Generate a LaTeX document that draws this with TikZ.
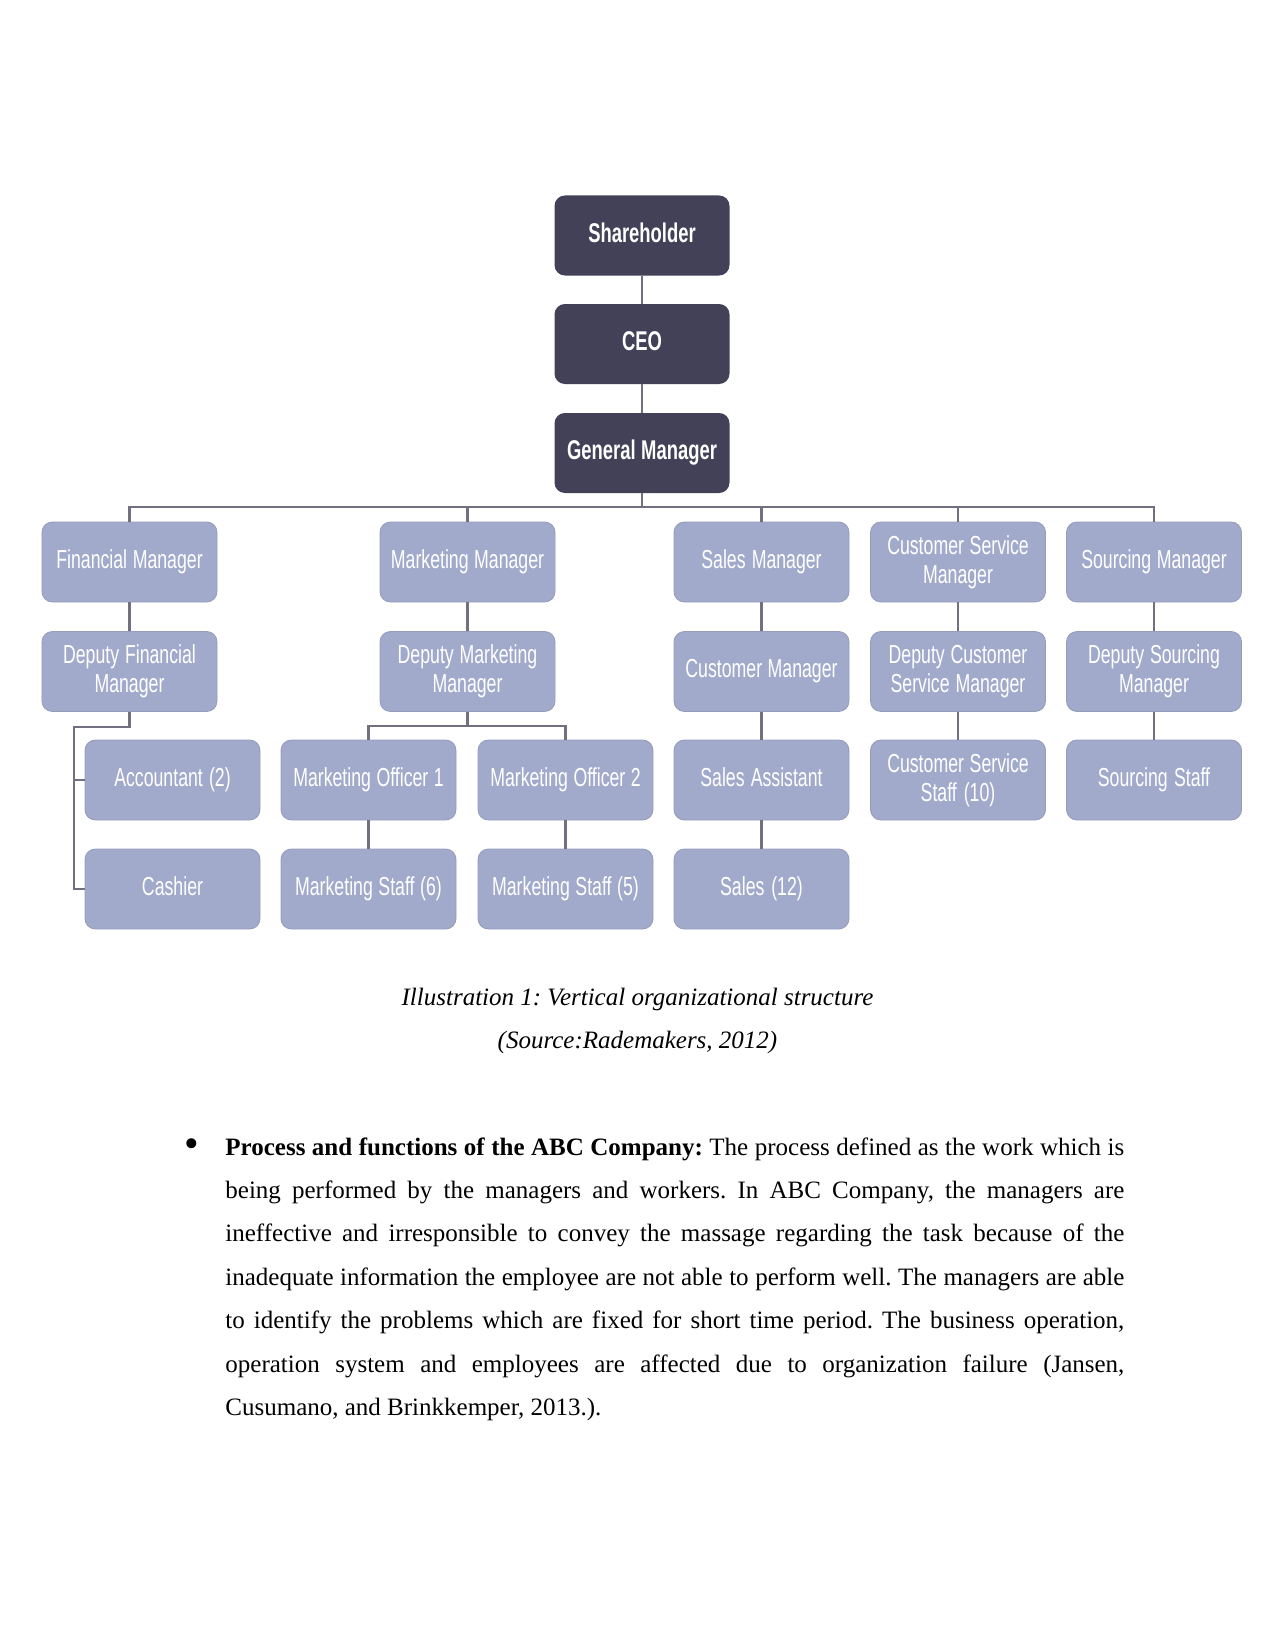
\documentclass[tikz,border=0pt]{standalone}
\usepackage{fontspec}
\setmainfont{Liberation Serif}
\newfontfamily\boxfont[FakeStretch=0.68]{Liberation Sans}
\usetikzlibrary{calc}
\definecolor{darkbox}{RGB}{66,65,88}
\definecolor{lightbox}{RGB}{162,170,204}
\definecolor{connc}{RGB}{112,112,128}
\tikzset{
  orgbox/.style={rectangle, rounded corners=5pt, minimum width=84pt, minimum height=38.4pt,
    inner sep=2pt, text width=80pt, align=center, text=white,
    execute at begin node={\spaceskip=2.5pt plus 1pt minus 0.5pt\vphantom{Mg}}},
  darkb/.style={orgbox, fill=darkbox, font=\boxfont\bfseries\fontsize{13}{15}\selectfont},
  lightb/.style={orgbox, fill=lightbox, draw=lightbox!92!black, line width=0.4pt,
    font=\boxfont\fontsize{12.5}{13.8}\selectfont},
  conn/.style={draw=connc, line width=1pt},
  bodyline/.style={anchor=base west, inner sep=0pt, font=\fontsize{12}{14}\selectfont},
  captext/.style={anchor=base, inner sep=0pt, font=\itshape\fontsize{12}{14}\selectfont}
}
\begin{document}
\frenchspacing
\begin{tikzpicture}[x=0.48pt,y=-0.48pt]
\useasboundingbox (0,0) rectangle (1275,1651);
% top chain
\node[darkb] (sh)  at (642,235.5) {Shareholder};
\node[darkb] (ceo) at (642,344) {CEO};
\node[darkb] (gm)  at (642,453) {General Manager};
% row 1
\node[lightb] (fm)  at (129.5,562) {Financial Manager};
\node[lightb] (mm)  at (467.5,562) {Marketing Manager};
\node[lightb] (sm)  at (761.5,562) {Sales Manager};
\node[lightb] (csm) at (958,562) {Customer Service\\Manager};
\node[lightb] (som) at (1154,562) {Sourcing Manager};
% row 2
\node[lightb] (dfm)  at (129.5,671.5) {Deputy Financial\\Manager};
\node[lightb] (dmm)  at (467.5,671.5) {Deputy Marketing\\Manager};
\node[lightb] (cm)   at (761.5,671.5) {Customer Manager};
\node[lightb] (dcsm) at (958,671.5) {Deputy Customer\\Service Manager};
\node[lightb] (dsom) at (1154,671.5) {Deputy Sourcing\\Manager};
% row 3
\node[lightb] (acc) at (172.5,780) {Accountant (2)};
\node[lightb] (mo1) at (368.5,780) {Marketing Officer 1};
\node[lightb] (mo2) at (565.5,780) {Marketing Officer 2};
\node[lightb] (sa)  at (761.5,780) {Sales Assistant};
\node[lightb] (css) at (958,780) {Customer Service\\Staff (10)};
\node[lightb] (ss)  at (1154,780) {Sourcing Staff};
% row 4
\node[lightb] (cash) at (172.5,889) {Cashier};
\node[lightb] (ms6)  at (368.5,889) {Marketing Staff (6)};
\node[lightb] (ms5)  at (565.5,889) {Marketing Staff (5)};
\node[lightb] (s12)  at (761.5,889) {Sales (12)};
% connectors
\coordinate (bus) at (642,507);
\coordinate (fbr) at (74,727);
\coordinate (mbr) at (467.5,726);
\draw[conn] (sh) -- (ceo);
\draw[conn] (ceo) -- (gm);
\draw[conn] (gm.south) -- (bus);
\draw[conn] (fm.north) |- (bus) -| (som.north);
\draw[conn] (mm.north) -- (mm.north |- bus);
\draw[conn] (sm.north) -- (sm.north |- bus);
\draw[conn] (csm.north) -- (csm.north |- bus);
\draw[conn] (fm) -- (dfm);
\draw[conn] (dfm.south) |- (fbr) |- (cash.west);
\draw[conn] (fbr |- acc.west) -- (acc.west);
\draw[conn] (mm) -- (dmm);
\draw[conn] (dmm.south) -- (mbr);
\draw[conn] (mo1.north) |- (mbr) -| (mo2.north);
\draw[conn] (mo1) -- (ms6);
\draw[conn] (mo2) -- (ms5);
\draw[conn] (sm) -- (cm);
\draw[conn] (cm) -- (sa);
\draw[conn] (sa) -- (s12);
\draw[conn] (csm) -- (dcsm);
\draw[conn] (dcsm) -- (css);
\draw[conn] (som) -- (dsom);
\draw[conn] (dsom) -- (ss);
% caption
\node[captext] (cap1) at (637.5,1005) {Illustration 1: Vertical organizational structure};
\node[captext] (cap2) at (637.5,1048) {(Source:Rademakers, 2012)};
% body text
\node[anchor=base, inner sep=0pt, font=\fontsize{20}{20}\selectfont] (bul) at (192,1157) {\textbullet};
\node[bodyline] (l1) at (225,1155) {\makebox[431.5pt][s]{\textbf{Process and functions of the ABC Company:} The process defined as the work which is}};
\node[bodyline] (l2) at (225,1198.4) {\makebox[431.5pt][s]{being performed by the managers and workers. In ABC Company, the managers are}};
\node[bodyline] (l3) at (225,1241.8) {\makebox[431.5pt][s]{ineffective and irresponsible to convey the massage regarding the task because of the}};
\node[bodyline] (l4) at (225,1285.2) {\makebox[431.5pt][s]{inadequate information the employee are not able to perform well. The managers are able}};
\node[bodyline] (l5) at (225,1328.6) {\makebox[431.5pt][s]{to identify the problems which are fixed for short time period. The business operation,}};
\node[bodyline] (l6) at (225,1372) {\makebox[431.5pt][s]{operation system and employees are affected due to organization failure (Jansen,}};
\node[bodyline] (l7) at (225,1415.4) {Cusumano, and Brinkkemper, 2013.).};
\end{tikzpicture}
\end{document}
